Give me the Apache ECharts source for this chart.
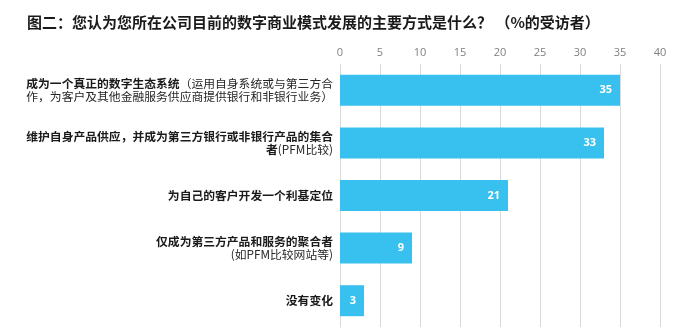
<!DOCTYPE html>
<html><head><meta charset="utf-8">
<script src="https://cdn.jsdelivr.net/npm/echarts@6/dist/echarts.min.js"></script>
<style>html,body{margin:0;padding:0;background:#fff}#c{width:700px;height:334px}</style>
</head><body><div id="c"></div>
<script>
const titleText = '图二：您认为您所在公司目前的数字商业模式发展的主要方式是什么？ （%的受访者）';
const categories = [
  '{b|成为一个真正的数字生态系统}{n|（运用自身系统或与第三方合}\n{n|作，为客户及其他金融服务供应商提供银行和非银行业务）}',
  '{b|维护自身产品供应，并成为第三方银行或非银行产品的集合}\n{b|者}{n|(PFM比较)}',
  '{b|为自己的客户开发一个利基定位}',
  '{b|仅成为第三方产品和服务的聚合者}\n{n|(如PFM比较网站等)}',
  '{b|没有变化}'
];
const values = [35, 33, 21, 9, 3];
const xTicks = {min: 0, max: 40, interval: 5};

const chart = echarts.init(document.getElementById('c'));
chart.setOption({
  animation: false,
  title: {text: titleText, left: 22, top: 10,
    textStyle: {fontFamily: 'Noto Sans CJK SC', fontSize: 15, fontWeight: 'bold', color: '#1a1a1a'}},
  grid: {left: 340, right: 40, top: 64, bottom: 7},
  xAxis: {type: 'value', position: 'top', min: xTicks.min, max: xTicks.max, interval: xTicks.interval,
    axisLine: {show: false}, axisTick: {show: false},
    axisLabel: {color: '#7f7f7f', fontSize: 11, fontFamily: 'Open Sans', margin: 6},
    splitLine: {lineStyle: {color: '#d9d9d9', width: 1}}},
  yAxis: {type: 'category', inverse: true, data: categories,
    axisLine: {show: true, lineStyle: {color: '#d9d9d9'}}, axisTick: {show: false},
    axisLabel: {margin: 7, align: 'right', lineHeight: 13,
      rich: {
        b: {fontFamily: 'Noto Sans CJK SC', fontSize: 11.8, fontWeight: 'bold', color: '#1a1a1a', lineHeight: 13},
        n: {fontFamily: 'Noto Sans CJK SC', fontSize: 11.8, color: '#262626', lineHeight: 13}
      }}},
  series: [{type: 'bar', data: values, barWidth: 31,
    itemStyle: {color: '#38c1ee'},
    label: {show: true, position: 'insideRight', distance: 8, color: '#ffffff',
      fontFamily: 'Open Sans', fontWeight: 'bold', fontSize: 11}}]
});
</script></body></html>
